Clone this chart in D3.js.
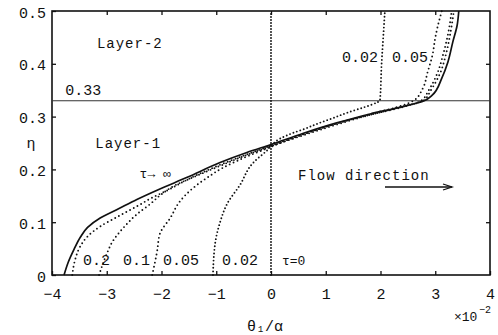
<!DOCTYPE html>
<html>
<head>
<meta charset="utf-8">
<script src="https://d3js.org/d3.v7.min.js"></script>
<style>
  body { margin: 0; background: #fff; }
  svg text { font-family: "Liberation Mono", "DejaVu Sans Mono", monospace; fill: #111; }
</style>
</head>
<body>
<div id="chart"></div>
<script>
// theta values are in units of 1e-2 (as on the axis), eta is dimensionless
const xTicks = [-4, -3, -2, -1, 0, 1, 2, 3, 4];
const yTicks = [0, 0.1, 0.2, 0.3, 0.4, 0.5];
const layerEta = 0.33;

// tau -> infinity (steady state, solid)
const steadyTheta = [-3.78, -3.70, -3.60, -3.48, -3.35, -3.12, -2.81, -2.45, -2.05, -1.53, -0.93, -0.44, 0, 0.58, 1.2, 1.81, 2.41, 2.8, 2.94, 3.12, 3.23, 3.32, 3.40, 3.43];
const steadyEta   = [0, 0.025, 0.048, 0.072, 0.09, 0.108, 0.124, 0.143, 0.162, 0.185, 0.213, 0.232, 0.247, 0.268, 0.288, 0.305, 0.319, 0.33, 0.34, 0.373, 0.403, 0.441, 0.473, 0.5];

// transient profiles (dotted)
const tau02Theta = [-3.63, -3.58, -3.49, -3.36, -3.12, -2.81, -2.45, -2.16, -1.9, -1.5, -0.9, -0.4, 0, 1.2, 2.4, 2.78, 2.92, 3.08, 3.2, 3.28, 3.34];
const tau02Eta   = [0, 0.028, 0.053, 0.072, 0.092, 0.11, 0.13, 0.147, 0.16, 0.182, 0.21, 0.23, 0.245, 0.287, 0.319, 0.33, 0.35, 0.38, 0.42, 0.46, 0.5];

const tau01Theta = [-3.14, -3.0, -2.89, -2.7, -2.45, -2.2, -2.0, -1.75, -1.4, -0.9, -0.4, 0, 0.6, 1.2, 1.8, 2.4, 2.74, 2.88, 3.03, 3.15, 3.24, 3.3];
const tau01Eta   = [0, 0.04, 0.064, 0.089, 0.115, 0.135, 0.153, 0.17, 0.186, 0.208, 0.229, 0.244, 0.265, 0.285, 0.303, 0.318, 0.33, 0.35, 0.38, 0.42, 0.46, 0.5];

const tau005Theta = [-2.17, -2.08, -2.03, -1.84, -1.66, -1.42, -1.17, -0.88, -0.62, -0.38, -0.16, 0.1, 0.7, 1.3, 1.9, 2.3, 2.6, 2.77, 2.86, 2.95, 3.0, 3.05, 3.12];
const tau005Eta   = [0, 0.045, 0.078, 0.108, 0.14, 0.165, 0.184, 0.203, 0.216, 0.227, 0.236, 0.247, 0.27, 0.29, 0.307, 0.318, 0.33, 0.353, 0.384, 0.417, 0.449, 0.473, 0.5];

const tau002Theta = [-1.06, -1.02, -0.93, -0.8, -0.57, -0.33, -0.07, 0.16, 0.40, 0.62, 0.86, 1.1, 1.41, 1.68, 1.94, 1.99, 2.02, 2.05, 2.08];
const tau002Eta   = [0, 0.06, 0.10, 0.135, 0.17, 0.212, 0.236, 0.258, 0.269, 0.277, 0.287, 0.296, 0.308, 0.317, 0.327, 0.33, 0.4, 0.45, 0.5];

const tau0Theta = [0, 0];
const tau0Eta   = [0, 0.5];

const width = 498, height = 335;
const margin = { top: 11, right: 8, bottom: 60, left: 52 };

const svg = d3.select('#chart').append('svg')
  .attr('width', width)
  .attr('height', height);

const x = d3.scaleLinear().domain([-4, 4]).range([margin.left, width - margin.right]);
const y = d3.scaleLinear().domain([0, 0.5]).range([height - margin.bottom, margin.top]);

const fmtX = d => d < 0 ? '\u2212' + Math.abs(d) : String(d);
const fmtY = d => d === 0 ? '0' : d.toFixed(1);

// axes, ticks pointing inward on all four sides
const bottom = svg.append('g')
  .attr('transform', `translate(0,${y(0)})`)
  .call(d3.axisBottom(x).tickValues(xTicks).tickSize(-4).tickPadding(13).tickFormat(fmtX));
const left = svg.append('g')
  .attr('transform', `translate(${x(-4)},0)`)
  .call(d3.axisLeft(y).tickValues(yTicks).tickSize(-4).tickPadding(6).tickFormat(fmtY));
svg.append('g')
  .attr('transform', `translate(0,${y(0.5)})`)
  .call(d3.axisTop(x).tickValues(xTicks.slice(1, -1)).tickSize(-4).tickFormat(''));
svg.append('g')
  .attr('transform', `translate(${x(4)},0)`)
  .call(d3.axisRight(y).tickValues(yTicks.slice(1, -1)).tickSize(-4).tickFormat(''));

svg.selectAll('.domain').remove();
svg.selectAll('.tick line').attr('stroke', '#111').attr('stroke-width', 1.3);
svg.selectAll('.tick text').style('font-size', '15px').style('font-family', '"Liberation Mono", monospace').attr('fill', '#111');
left.selectAll('.tick text').attr('dy', '0.4em');

// frame
svg.append('rect')
  .attr('x', x(-4)).attr('y', y(0.5))
  .attr('width', x(4) - x(-4)).attr('height', y(0) - y(0.5))
  .attr('fill', 'none').attr('stroke', '#111').attr('stroke-width', 1.6);

// interface between the layers
svg.append('line')
  .attr('x1', x(-4)).attr('x2', x(4))
  .attr('y1', y(layerEta)).attr('y2', y(layerEta))
  .attr('stroke', '#333').attr('stroke-width', 1);

const line = d3.line()
  .x(d => x(d[0]))
  .y(d => y(d[1]))
  .curve(d3.curveMonotoneY);

const zip = (a, b) => a.map((v, i) => [v, b[i]]);

const dotted = [
  { th: tau0Theta, eta: tau0Eta, dash: '0 3' },
  { th: tau002Theta, eta: tau002Eta, dash: '0 3.6' },
  { th: tau005Theta, eta: tau005Eta, dash: '0 4.2' },
  { th: tau01Theta, eta: tau01Eta, dash: '0 4.2' },
  { th: tau02Theta, eta: tau02Eta, dash: '0 4.2' }
];

svg.selectAll('.dotted')
  .data(dotted)
  .enter()
  .append('path')
  .attr('class', 'dotted')
  .attr('d', d => line(zip(d.th, d.eta)))
  .attr('fill', 'none')
  .attr('stroke', '#111')
  .attr('stroke-width', 1.9)
  .attr('stroke-linecap', 'round')
  .attr('stroke-dasharray', d => d.dash);

svg.append('path')
  .attr('d', line(zip(steadyTheta, steadyEta)))
  .attr('fill', 'none')
  .attr('stroke', '#111')
  .attr('stroke-width', 1.7);

// annotations
const label = (txt, px, py, size, extra) => {
  const t = svg.append('text')
    .attr('x', px).attr('y', py)
    .style('font-size', size + 'px')
    .text(txt);
  if (extra) extra(t);
  return t;
};

label('Layer-2', x(-3.18), y(0.43), 14, t => t.style('letter-spacing', '1px'));
label('0.33', x(-3.76), y(0.341), 15);
label('Layer-1', x(-3.21), y(0.24), 14, t => t.style('letter-spacing', '1px'));
label('\u03b7', 31, 148, 15, t => t.attr('text-anchor', 'middle'));
label('\u03c4\u2192 \u221e', x(-2.4), 178, 13);
label('Flow direction', 298, 180, 14, t => t.style('letter-spacing', '1px'));

svg.append('line')
  .attr('x1', 385).attr('x2', 452).attr('y1', 187).attr('y2', 187)
  .attr('stroke', '#111').attr('stroke-width', 1.3);
svg.append('path')
  .attr('d', 'M443,184 L452,187 L443,190')
  .attr('fill', 'none').attr('stroke', '#111').attr('stroke-width', 1.3);

// tau labels near the bottom
label('0.2', 83, 265, 15);
label('0.1', 123, 265, 15);
label('0.05', 163, 265, 15);
label('0.02', 222, 265, 15);
label('\u03c4=0', 282, 265, 13);

// tau labels in layer 2
label('0.02', 342, 62, 15);
label('0.05', 392, 62, 15);

// axis title and multiplier
label('\u03b8\u2081/\u03b1', 265, 331, 15, t => t.attr('text-anchor', 'middle'));
label('\u00d710', 454, 321, 13);
label('\u22122', 479, 313, 10);
</script>
</body>
</html>
